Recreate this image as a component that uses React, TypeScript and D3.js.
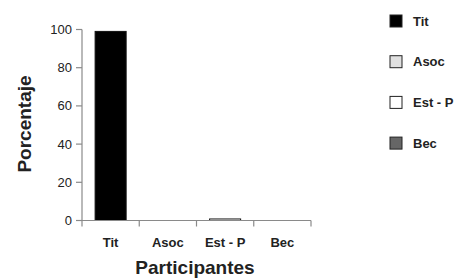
import React from "react";
import * as d3 from "d3";

const categories = ["Tit", "Asoc", "Est - P", "Bec"];
const values = [99, 0, 0.8, 0];
const colors = ["#000000", "#e0e0e0", "#ffffff", "#666666"];
const yTicks = [0, 20, 40, 60, 80, 100];

export default function App() {
  const W = 457, H = 279;
  const x = d3.scaleBand<string>().domain(categories).range([82, 311]).paddingInner(0.458).paddingOuter(0.229);
  const y = d3.scaleLinear().domain([0, 100]).range([220.5, 29.5]);
  const font = "Liberation Sans, Arial, sans-serif";
  const axisColor = "#8a8a8a";
  const step = x.step();
  const x0 = x.range()[0];
  return (
    <svg width={W} height={H} style={{ position: "absolute", left: 0, top: 0 }} fontFamily={font}>
      <rect width={W} height={H} fill="#fff" />
      {categories.map((c, i) => (
        <rect key={c} x={x(c)} y={y(values[i])} width={x.bandwidth()} height={y(0) - y(values[i])}
          fill={colors[i]} stroke="#111" strokeWidth={1} />
      ))}
      {/* y axis */}
      <line x1={82} x2={82} y1={y(100)} y2={y(0)} stroke={axisColor} strokeWidth={1.2} />
      {yTicks.map((t) => (
        <g key={t}>
          <line x1={76} x2={82} y1={y(t)} y2={y(t)} stroke={axisColor} strokeWidth={1.2} />
          <text x={72} y={y(t)} dy="0.35em" textAnchor="end" fontSize={13} fill="#222">{t}</text>
        </g>
      ))}
      {/* x axis */}
      <line x1={82} x2={311} y1={y(0)} y2={y(0)} stroke={axisColor} strokeWidth={1.2} />
      {d3.range(categories.length + 1).map((i) => (
        <line key={i} x1={x0 + i * step} x2={x0 + i * step} y1={y(0)} y2={y(0) + 6} stroke={axisColor} strokeWidth={1.2} />
      ))}
      {categories.map((c) => (
        <text key={c} x={(x(c) as number) + x.bandwidth() / 2} y={247} textAnchor="middle" fontSize={13} fontWeight="bold" fill="#222">{c}</text>
      ))}
      <text x={195} y={274} textAnchor="middle" fontSize={19} fontWeight="bold" fill="#222">Participantes</text>
      <text transform={`translate(31,124) rotate(-90)`} textAnchor="middle" fontSize={19} fontWeight="bold" fill="#222">Porcentaje</text>
      {/* legend */}
      {categories.map((c, i) => (
        <g key={c} transform={`translate(390,${21 + i * 40.7})`}>
          <rect x={0} y={-6} width={12} height={12} fill={colors[i]} stroke="#222" strokeWidth={1} />
          <text x={23} y={0} dy="0.35em" fontSize={13} fontWeight="bold" fill="#222">{c}</text>
        </g>
      ))}
    </svg>
  );
}
